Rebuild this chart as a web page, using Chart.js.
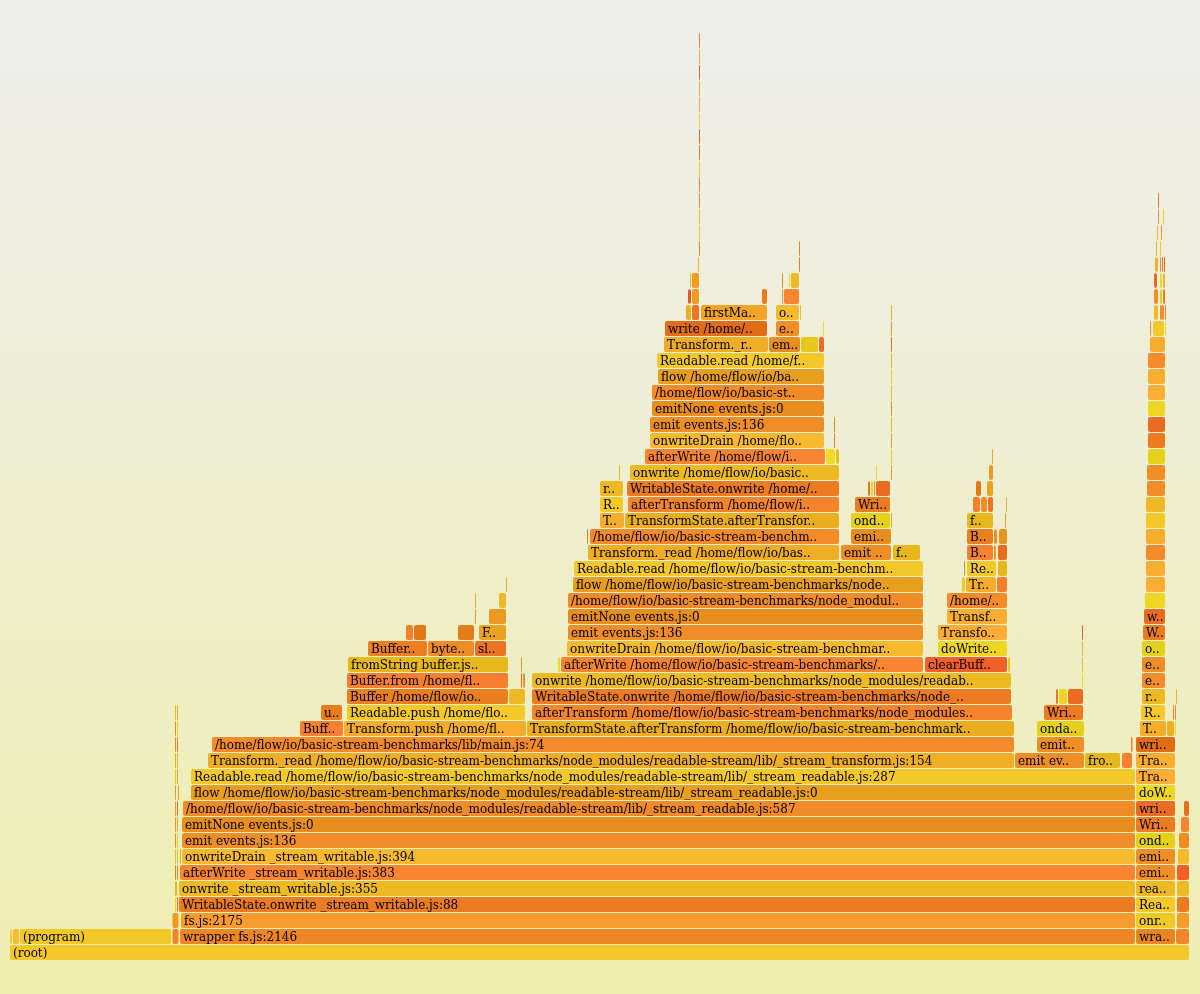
<!DOCTYPE html>
<html>
<head>
<meta charset="utf-8">
<script src="https://cdn.jsdelivr.net/npm/chart.js@4.4.1/dist/chart.umd.min.js"></script>
<style>
  html, body { margin: 0; padding: 0; }
  body { width: 1200px; height: 994px; background: linear-gradient(to bottom, #eeeeee 0%, #eeeeb0 100%); overflow: hidden; }
  #wrap { position: relative; width: 1200px; height: 994px; }
  canvas { display: block; }
</style>
</head>
<body>
<div id="wrap"><canvas id="flame"></canvas></div>
<script>
// ---------- data: [depth, startSample, endSample, frame name] ----------
const P = "/home/flow/io/basic-stream-benchmarks";
const RS = P + "/node_modules/readable-stream/lib/";
const W = RS + "_stream_writable.js:";
const RD = RS + "_stream_readable.js:";
const TR = RS + "_stream_transform.js:";
const MAIN = P + "/lib/main.js:";
const BUF = P + "/node_modules/buffer/index.js:";

const totalSamples = 1180;
const maxDepth = 59;

const rootFrames = [
  [0, 0, 1180, "(root)"],
  [1, 0, 3, "(garbage collector)"],
  [1, 3, 10, "(idle)"],
  [1, 10, 162, "(program)"],
  [1, 162.5, 169.5, "wrapper fs.js:2116"],
  [1, 170, 1126, "wrapper fs.js:2146"],
  [1, 1166, 1180, "wrapper fs.js:2154"],
  [2, 162.5, 169.5, "fs.js:2120"],
  [2, 171, 1126, "fs.js:2175"],
  [2, 1167, 1180, "fs.js:2178"]
];

const edgeFrames = [
  [3, 1167, 1180, "WritableState.onwrite _stream_writable.js:89"],
  [4, 1167, 1180, "onwrite _stream_writable.js:356"],
  [5, 1167, 1180, "clearBuffer _stream_writable.js:433"],
  [6, 1168, 1180, "onwriteDrain _stream_writable.js:395"],
  [7, 1169, 1180, "emit events.js:138"],
  [8, 1171, 1180, "afterWrite _stream_writable.js:384"],
  [9, 1174, 1180, "writeOrBuffer _stream_writable.js:301"]
];

const leftThinFrames = [
  [3, 165, 167, "nextTick next_tick.js:50"],
  [3, 167, 169, "writeGeneric fs.js:2100"],
  [4, 165, 168, "onwrite _stream_writable.js:360"],
  [5, 165, 167, "afterTick next_tick.js:60"],
  [5, 167, 169, "afterWrite _stream_writable.js:390"],
  [6, 165, 167, "onwriteDrain _stream_writable.js:398"],
  [6, 167, 169, "Socket._write net.js:700"],
  [6, 170, 172, "getBuffer _stream_writable.js:150"],
  [7, 165, 167, "emit events.js:140"],
  [7, 167, 169, "ondrain _stream_readable.js:560"],
  [8, 165, 167, "emitNone events.js:2"],
  [8, 167, 169, "pipeOnDrain _stream_readable.js:570"],
  [9, 165, 167, "flow _stream_readable.js:590"],
  [9, 167, 169, "maybeReadMore _stream_readable.js:480"],
  [10, 165, 167, "flow _stream_readable.js:0"],
  [10, 168, 170, "resume _stream_readable.js:800"],
  [11, 165, 167, "Readable.read _stream_readable.js:290"],
  [11, 167, 169, "howMuchToRead _stream_readable.js:300"],
  [12, 165, 167, "Transform._read _stream_transform.js:160"],
  [12, 167, 169, "fromList _stream_readable.js:900"],
  [13, 165, 167, "copyFromBuffer _stream_readable.js:950"],
  [13, 167, 169, "Buffer.concat buffer.js:300"],
  [14, 165, 167, "stringSlice buffer.js:500"],
  [14, 167, 169, "endReadable _stream_readable.js:990"],
  [15, 165, 167, "hexSlice buffer.js:510"],
  [15, 167, 169, "prefinish _stream_writable.js:500"]
];

const mainFrames = [
  [3, 169, 1126, "WritableState.onwrite _stream_writable.js:88"],
  [4, 169, 1126, "onwrite _stream_writable.js:355"],
  [5, 170, 1126, "afterWrite _stream_writable.js:383"],
  [6, 172, 1126, "onwriteDrain _stream_writable.js:394"],
  [7, 172, 1126, "emit events.js:136"],
  [8, 172, 1126, "emitNone events.js:0"],
  [9, 173, 1126, RD + "587"],
  [10, 181, 1126, "flow " + RD + "0"],
  [11, 181, 1126, "Readable.read " + RD + "287"],
  [12, 198, 1005, "Transform._read " + TR + "154"],
  [13, 202, 1005, MAIN + "74"]
];

const bufferFrames = [
  [14, 290, 334, "Buffer.from buffer.js:102"],
  [14, 334, 517, "Transform.push " + TR + "133"],
  [15, 311, 333, "utf8Write buffer.js:0"],
  [15, 337, 516, "Readable.push " + RD + "134"],
  [16, 337, 499, "Buffer " + BUF + "201"],
  [16, 499, 516, "readableAddChunk " + RD + "155"],
  [17, 337, 499, "Buffer.from " + BUF + "302"],
  [17, 511, 513, "chunkInvalid _stream_readable.js:200"],
  [17, 513, 516, "emit events.js:188"],
  [18, 338, 499, "fromString buffer.js:150"],
  [18, 511, 513, "isBuffer buffer.js:400"],
  [19, 358, 418, "Buffer.allocUnsafe buffer.js:237"],
  [19, 418, 465, "byteLength buffer.js:379"],
  [19, 465, 497, "slice buffer.js:590"],
  [20, 396, 404, "allocate buffer.js:177"],
  [20, 404, 417, "createUnsafeBuffer buffer.js:40"],
  [20, 448, 465, "utf8Length buffer.js:360"],
  [20, 469, 497, "FastBuffer buffer.js:9"],
  [21, 465, 467, "Uint8Array native"],
  [21, 479, 497, "Uint8Array typedarray.js:100"],
  [22, 465, 467, "ToNumber native"],
  [22, 489, 497, "TypedArrayConstructor native"],
  [23, 496, 498, "ToPositiveInteger native"]
];

const streamFrames = [
  [14, 517, 1005, "TransformState.afterTransform " + TR + "79"],
  [15, 522, 1003, "afterTransform " + TR + "92"],
  [16, 522, 1002, "WritableState.onwrite " + W + "88"],
  [17, 522, 1002, "onwrite " + W + "355"],
  [18, 548, 551, "nextTick next_tick.js:52"],
  [18, 551, 914, "afterWrite " + W + "383"],
  [18, 915, 998, "clearBuffer " + W + "433"],
  [18, 998, 1001, "onCorkedFinish _stream_writable.js:600"],
  [19, 557, 914, "onwriteDrain " + W + "394"],
  [19, 928, 998, "doWrite " + W + "327"],
  [20, 558, 914, "emit events.js:136"],
  [20, 928, 998, "Transform._write " + TR + "172"],
  [21, 558, 914, "emitNone events.js:0"],
  [21, 937, 998, "Transform._read " + TR + "184"],
  [22, 558, 914, RD + "587"],
  [22, 937, 998, MAIN + "74"],
  [23, 563, 914, "flow " + RD + "0"],
  [23, 952, 956, "needFinish _stream_writable.js:480"],
  [23, 956, 987, "Transform.push " + TR + "133"],
  [23, 987, 998, "Buffer.from buffer.js:103"],
  [24, 564, 914, "Readable.read " + RD + "287"],
  [24, 954, 956, "emitReadable _stream_readable.js:460"],
  [24, 957, 987, "Readable.push " + RD + "134"],
  [24, 988, 998, "fromString buffer.js:151"],
  [25, 578, 830, "Transform._read " + TR + "154"],
  [25, 831, 882, "emit events.js:136"],
  [25, 883, 911, "fromString buffer.js:150"],
  [25, 957, 984, "Buffer.from buffer.js:102"],
  [25, 984, 987, "addChunk _stream_readable.js:240"],
  [25, 988, 998, "write buffer.js:800"],
  [26, 577, 579, "afterTick next_tick.js:61"],
  [26, 580, 830, MAIN + "74"],
  [26, 841, 882, "emitNone events.js:0"],
  [26, 957, 984, "Buffer " + BUF + "201"],
  [26, 984, 988, "emit events.js:190"],
  [26, 989, 998, "ucs2Write buffer.js:820"],
  [27, 590, 615, "Transform.push " + TR + "133"],
  [27, 615, 830, "TransformState.afterTransform " + TR + "79"],
  [27, 841, 881, "ondata " + RD + "611"],
  [27, 881, 883, "resume " + RD + "780"],
  [27, 957, 984, "fromString buffer.js:150"],
  [27, 995, 997, "Uint8Array native"],
  [28, 590, 614, "Readable.push " + RD + "134"],
  [28, 618, 830, "afterTransform " + TR + "92"],
  [28, 845, 881, "Writable.write " + W + "219"],
  [28, 963, 971, "allocate buffer.js:177"],
  [28, 971, 978, "byteLength buffer.js:379"],
  [28, 978, 984, "slice buffer.js:590"],
  [28, 996, 998, "ToNumber native"],
  [29, 590, 614, "readableAddChunk " + RD + "155"],
  [29, 617, 830, "WritableState.onwrite " + W + "88"],
  [29, 858, 861, "validChunk " + W + "250"],
  [29, 861, 864, "decodeChunk " + W + "280"],
  [29, 864, 866, "isBuffer buffer.js:400"],
  [29, 866, 881, "writeOrBuffer " + W + "300"],
  [29, 966, 972, "createUnsafeBuffer buffer.js:40"],
  [29, 977, 984, "FastBuffer buffer.js:9"],
  [30, 609, 611, "onwriteError " + W + "360"],
  [30, 620, 830, "onwrite " + W + "355"],
  [30, 866, 868, "doWrite " + W + "327"],
  [30, 881, 883, "flow " + RD + "1"],
  [30, 979, 984, "Uint8Array typedarray.js:100"],
  [31, 635, 816, "afterWrite " + W + "383"],
  [31, 816, 826, "nextTick next_tick.js:52"],
  [31, 826, 830, "Socket.write net.js:700"],
  [31, 881, 883, "Readable.read " + RD + "288"],
  [31, 982, 984, "ToPositiveInteger native"],
  [32, 640, 815, "onwriteDrain " + W + "394"],
  [32, 824, 826, "Buffer.concat buffer.js:300"],
  [32, 881, 883, "howMuchToRead " + RD + "300"],
  [33, 640, 815, "emit events.js:136"],
  [33, 824, 826, "copyFromBuffer " + RD + "950"],
  [33, 881, 883, "fromList " + RD + "900"],
  [34, 642, 815, "emitNone events.js:0"],
  [34, 881, 883, "stringSlice buffer.js:500"],
  [35, 642, 815, RD + "587"],
  [35, 881, 883, "hexSlice buffer.js:510"],
  [36, 648, 815, "flow " + RD + "0"],
  [36, 881, 883, "endReadable " + RD + "990"],
  [37, 647, 815, "Readable.read " + RD + "287"],
  [37, 881, 883, "prefinish " + W + "500"],
  [38, 654, 759, "Transform._read " + TR + "154"],
  [38, 759, 791, "emitNone events.js:0"],
  [38, 791, 809, "Readable.on " + RD + "700"],
  [38, 809, 815, "maybeReadMore " + RD + "480"],
  [38, 881, 883, "callFinal " + W + "520"],
  [39, 655, 758, "write " + MAIN + "40"],
  [39, 766, 790, "emit events.js:136"],
  [39, 813, 815, "nextTick next_tick.js:52"],
  [39, 881, 883, "Uint8Array native"],
  [40, 676, 682, "indexOf native string.js:0"],
  [40, 682, 690, "slice buffer.js:590"],
  [40, 691, 758, "firstMatch " + MAIN + "12"],
  [40, 766, 790, "onwriteDrain " + W + "394"],
  [40, 790, 792, "Socket.write net.js:700"],
  [40, 881, 883, "ToNumber native"],
  [41, 678, 682, "match native regexp.js:0"],
  [41, 682, 690, "ToString native"],
  [41, 752, 758, "utf8Slice buffer.js:520"],
  [41, 772, 774, "emit events.js:136"],
  [41, 774, 790, "afterWrite " + W + "383"],
  [42, 680, 682, "RegExpExec native"],
  [42, 682, 690, "StringIndexOf native"],
  [42, 772, 774, "emitNone events.js:0"],
  [42, 779, 781, "nextTick next_tick.js:52"],
  [42, 781, 790, "onwrite " + W + "355"],
  [43, 688, 690, "RegExpExecStub native"],
  [43, 789, 791, "Buffer.concat buffer.js:300"],
  [44, 689, 691, "stringSlice buffer.js:500"],
  [44, 789, 791, "copyFromBuffer " + RD + "950"]
];

const spireFrames = [
  [45, 689, 691, "Readable.push " + RD + "134"],
  [46, 689, 691, "readableAddChunk " + RD + "155"],
  [47, 689, 691, "emit events.js:136"],
  [48, 689, 691, "emitOne events.js:96"],
  [49, 689, 691, "ondata " + RD + "611"],
  [50, 689, 691, "Writable.write " + W + "219"],
  [51, 689, 691, "writeOrBuffer " + W + "300"],
  [52, 689, 691, "doWrite " + W + "327"],
  [53, 689, 691, "Transform._write " + TR + "172"],
  [54, 689, 691, "Transform._read " + TR + "184"],
  [55, 689, 691, "write " + MAIN + "40"],
  [56, 689, 691, "Transform.push " + TR + "133"],
  [57, 689, 691, "afterTransform " + TR + "92"]
];

const emitFrames = [
  [12, 1005, 1075, "emit events.js:136"],
  [12, 1075, 1111, "fromString buffer.js:150"],
  [12, 1112, 1123, "Buffer.from buffer.js:102"],
  [13, 1027, 1075, "emitOne events.js:96"],
  [13, 1121, 1123.5, "allocate buffer.js:177"],
  [14, 1027, 1075, "ondata " + RD + "611"],
  [15, 1034, 1074, "Writable.write " + W + "219"],
  [16, 1046, 1049, "validChunk " + W + "250"],
  [16, 1049, 1058, "decodeChunk " + W + "280"],
  [16, 1058, 1074, "writeOrBuffer " + W + "300"],
  [17, 1072, 1074, "doWrite " + W + "327"],
  [18, 1072, 1074, "Transform._write " + TR + "172"],
  [19, 1072, 1074, "Transform._read " + TR + "184"],
  [20, 1072, 1074, "write " + MAIN + "40"]
];

const towerFrames = [
  [1, 1126, 1166, "wrapper fs.js:2150"],
  [2, 1126, 1166, "onread fs.js:2180"],
  [3, 1126, 1166, "Readable.push _stream_readable.js:134"],
  [4, 1126, 1166, "readableAddChunk _stream_readable.js:155"],
  [5, 1126, 1166, "emit events.js:188"],
  [6, 1126, 1166, "emitOne events.js:96"],
  [7, 1126, 1166, "ondata _stream_readable.js:611"],
  [8, 1126, 1166, "Writable.write _stream_writable.js:219"],
  [9, 1126, 1166, "writeOrBuffer _stream_writable.js:300"],
  [10, 1126, 1166, "doWrite _stream_writable.js:327"],
  [11, 1126, 1166, "Transform._write _stream_transform.js:172"],
  [12, 1126, 1166, "Transform._read _stream_transform.js:184"],
  [13, 1126, 1166, "write " + MAIN + "40"],
  [14, 1130, 1157, "Transform.push _stream_transform.js:133"],
  [14, 1157, 1165, "TransformState.afterTransform _stream_transform.js:79"],
  [14, 1165, 1167, "nextTick next_tick.js:52"],
  [15, 1131, 1156, "Readable.push _stream_readable.js:134"],
  [15, 1163, 1165, "afterTransform _stream_transform.js:92"],
  [15, 1165, 1167, "Buffer.from buffer.js:102"],
  [16, 1132, 1156, "readableAddChunk _stream_readable.js:155"],
  [16, 1166, 1168, "fromString buffer.js:150"],
  [17, 1132, 1156, "emit events.js:188"],
  [18, 1132, 1156, "emitOne events.js:96"],
  [19, 1132, 1156, "ondata _stream_readable.js:611"],
  [20, 1133, 1156, "Writable.write _stream_writable.js:219"],
  [21, 1134, 1156, "writeOrBuffer _stream_writable.js:300"],
  [22, 1135, 1156, "doWrite _stream_writable.js:327"],
  [23, 1136, 1156, "Transform._write _stream_transform.js:172"],
  [24, 1136, 1156, "Transform._read _stream_transform.js:184"],
  [25, 1136, 1156, MAIN + "74"],
  [26, 1136, 1156, "Transform.push _stream_transform.js:133"],
  [27, 1136, 1156, "Readable.push _stream_readable.js:134"],
  [28, 1136, 1156, "readableAddChunk _stream_readable.js:155"],
  [29, 1137, 1156, "emit events.js:188"],
  [30, 1137, 1156, "emitOne events.js:96"],
  [31, 1138, 1156, "ondata _stream_readable.js:611"],
  [32, 1138, 1156, "Writable.write _stream_writable.js:219"],
  [33, 1138, 1156, "writeOrBuffer _stream_writable.js:300"],
  [34, 1138, 1156, "doWrite _stream_writable.js:327"],
  [35, 1138, 1156, "Transform._write _stream_transform.js:172"],
  [36, 1138, 1156, "Transform._read _stream_transform.js:184"],
  [37, 1138, 1156, MAIN + "74"],
  [38, 1140, 1156, "Transform.push _stream_transform.js:133"],
  [39, 1140, 1142, "afterTransform _stream_transform.js:92"],
  [39, 1143, 1155, "Readable.push _stream_readable.js:134"],
  [39, 1155, 1157, "nextTick next_tick.js:52"],
  [40, 1144, 1149, "readableAddChunk _stream_readable.js:155"],
  [40, 1150, 1155, "emit events.js:188"],
  [40, 1155, 1157, "Buffer.from buffer.js:102"],
  [41, 1144, 1149, "emitOne events.js:96"],
  [41, 1150, 1153, "ondata _stream_readable.js:611"],
  [41, 1153, 1156, "Writable.write _stream_writable.js:219"],
  [42, 1144, 1148, "writeOrBuffer _stream_writable.js:300"],
  [42, 1150, 1153, "doWrite _stream_writable.js:327"],
  [42, 1153, 1156, "Transform._write _stream_transform.js:172"],
  [43, 1145, 1149, "Transform._read _stream_transform.js:184"],
  [43, 1150, 1152, MAIN + "74"],
  [43, 1152, 1154, "slice buffer.js:590"],
  [43, 1154, 1156, "write " + MAIN + "40"],
  [44, 1146, 1148, "Transform.push _stream_transform.js:133"],
  [44, 1150, 1152, "Readable.push _stream_readable.js:134"],
  [45, 1147, 1149, "readableAddChunk _stream_readable.js:155"],
  [45, 1151, 1153, "emit events.js:188"],
  [46, 1148, 1150, "emitOne events.js:96"],
  [46, 1153, 1155, "ondata _stream_readable.js:611"],
  [47, 1148, 1150, "Writable.write _stream_writable.js:219"]
];

// ---------- build the library table ----------
const allFrames = [].concat(rootFrames, edgeFrames, leftThinFrames, mainFrames,
  bufferFrames, streamFrames, spireFrames, emitFrames, towerFrames);
const frameNames = allFrames.map(f => f[3]);
const barData = allFrames.map(f => ({ x: [f[1], f[2]], y: f[0] }));

// flamegraph "hot" palette, hashed by function name
function nameHash(name) {
  let vector = 0, weight = 1, max = 1, mod = 10;
  name = name.replace(/.(.*?)`/, '');
  for (const c of name) {
    const i = c.charCodeAt(0) % mod;
    vector += (i / (mod++ - 1)) * weight;
    max += weight;
    weight *= 0.70;
    if (mod > 12) break;
  }
  return 1 - vector / max;
}
function hotColor(name) {
  const v1 = nameHash(name);
  const v2 = nameHash(Array.from(name).reverse().join(''));
  const r = 205 + Math.floor(50 * v2);
  const g = Math.floor(230 * v1);
  const b = Math.floor(55 * v2);
  return 'rgb(' + r + ',' + g + ',' + b + ')';
}

const labelPlugin = {
  id: 'frameLabels',
  afterDatasetsDraw(chart) {
    const ctx = chart.ctx;
    const meta = chart.getDatasetMeta(0);
    ctx.save();
    ctx.font = "12px 'DejaVu Serif'";
    ctx.fillStyle = '#000000';
    ctx.textBaseline = 'alphabetic';
    ctx.textAlign = 'left';
    meta.data.forEach((el, i) => {
      const left = Math.min(el.x, el.base);
      const w = Math.abs(el.x - el.base);
      const chars = Math.floor(w / 7.08);
      if (chars < 3) return;
      let t = frameNames[i];
      if (chars < t.length) t = t.slice(0, chars - 2) + '..';
      ctx.fillText(t, left + 3.5, el.y + 4);
    });
    ctx.restore();
  }
};

new Chart(document.getElementById('flame'), {
  type: 'bar',
  data: {
    datasets: [{
      data: barData,
      backgroundColor: (c) => hotColor(frameNames[c.dataIndex] || ''),
      borderWidth: 0,
      borderRadius: 2,
      borderSkipped: false,
      inflateAmount: -0.5,
      barThickness: 16
    }]
  },
  options: {
    indexAxis: 'y',
    responsive: true,
    maintainAspectRatio: false,
    devicePixelRatio: 1,
    animation: false,
    events: [],
    layout: { padding: { left: 9.5, right: 10.5, top: 0.5, bottom: 33.5 } },
    scales: {
      x: { type: 'linear', min: 0, max: totalSamples, offset: false, display: false },
      y: { type: 'linear', min: -0.5, max: maxDepth + 0.5, offset: false, display: false }
    },
    plugins: { legend: { display: false }, tooltip: { enabled: false } }
  },
  plugins: [labelPlugin]
});
</script>
</body>
</html>
